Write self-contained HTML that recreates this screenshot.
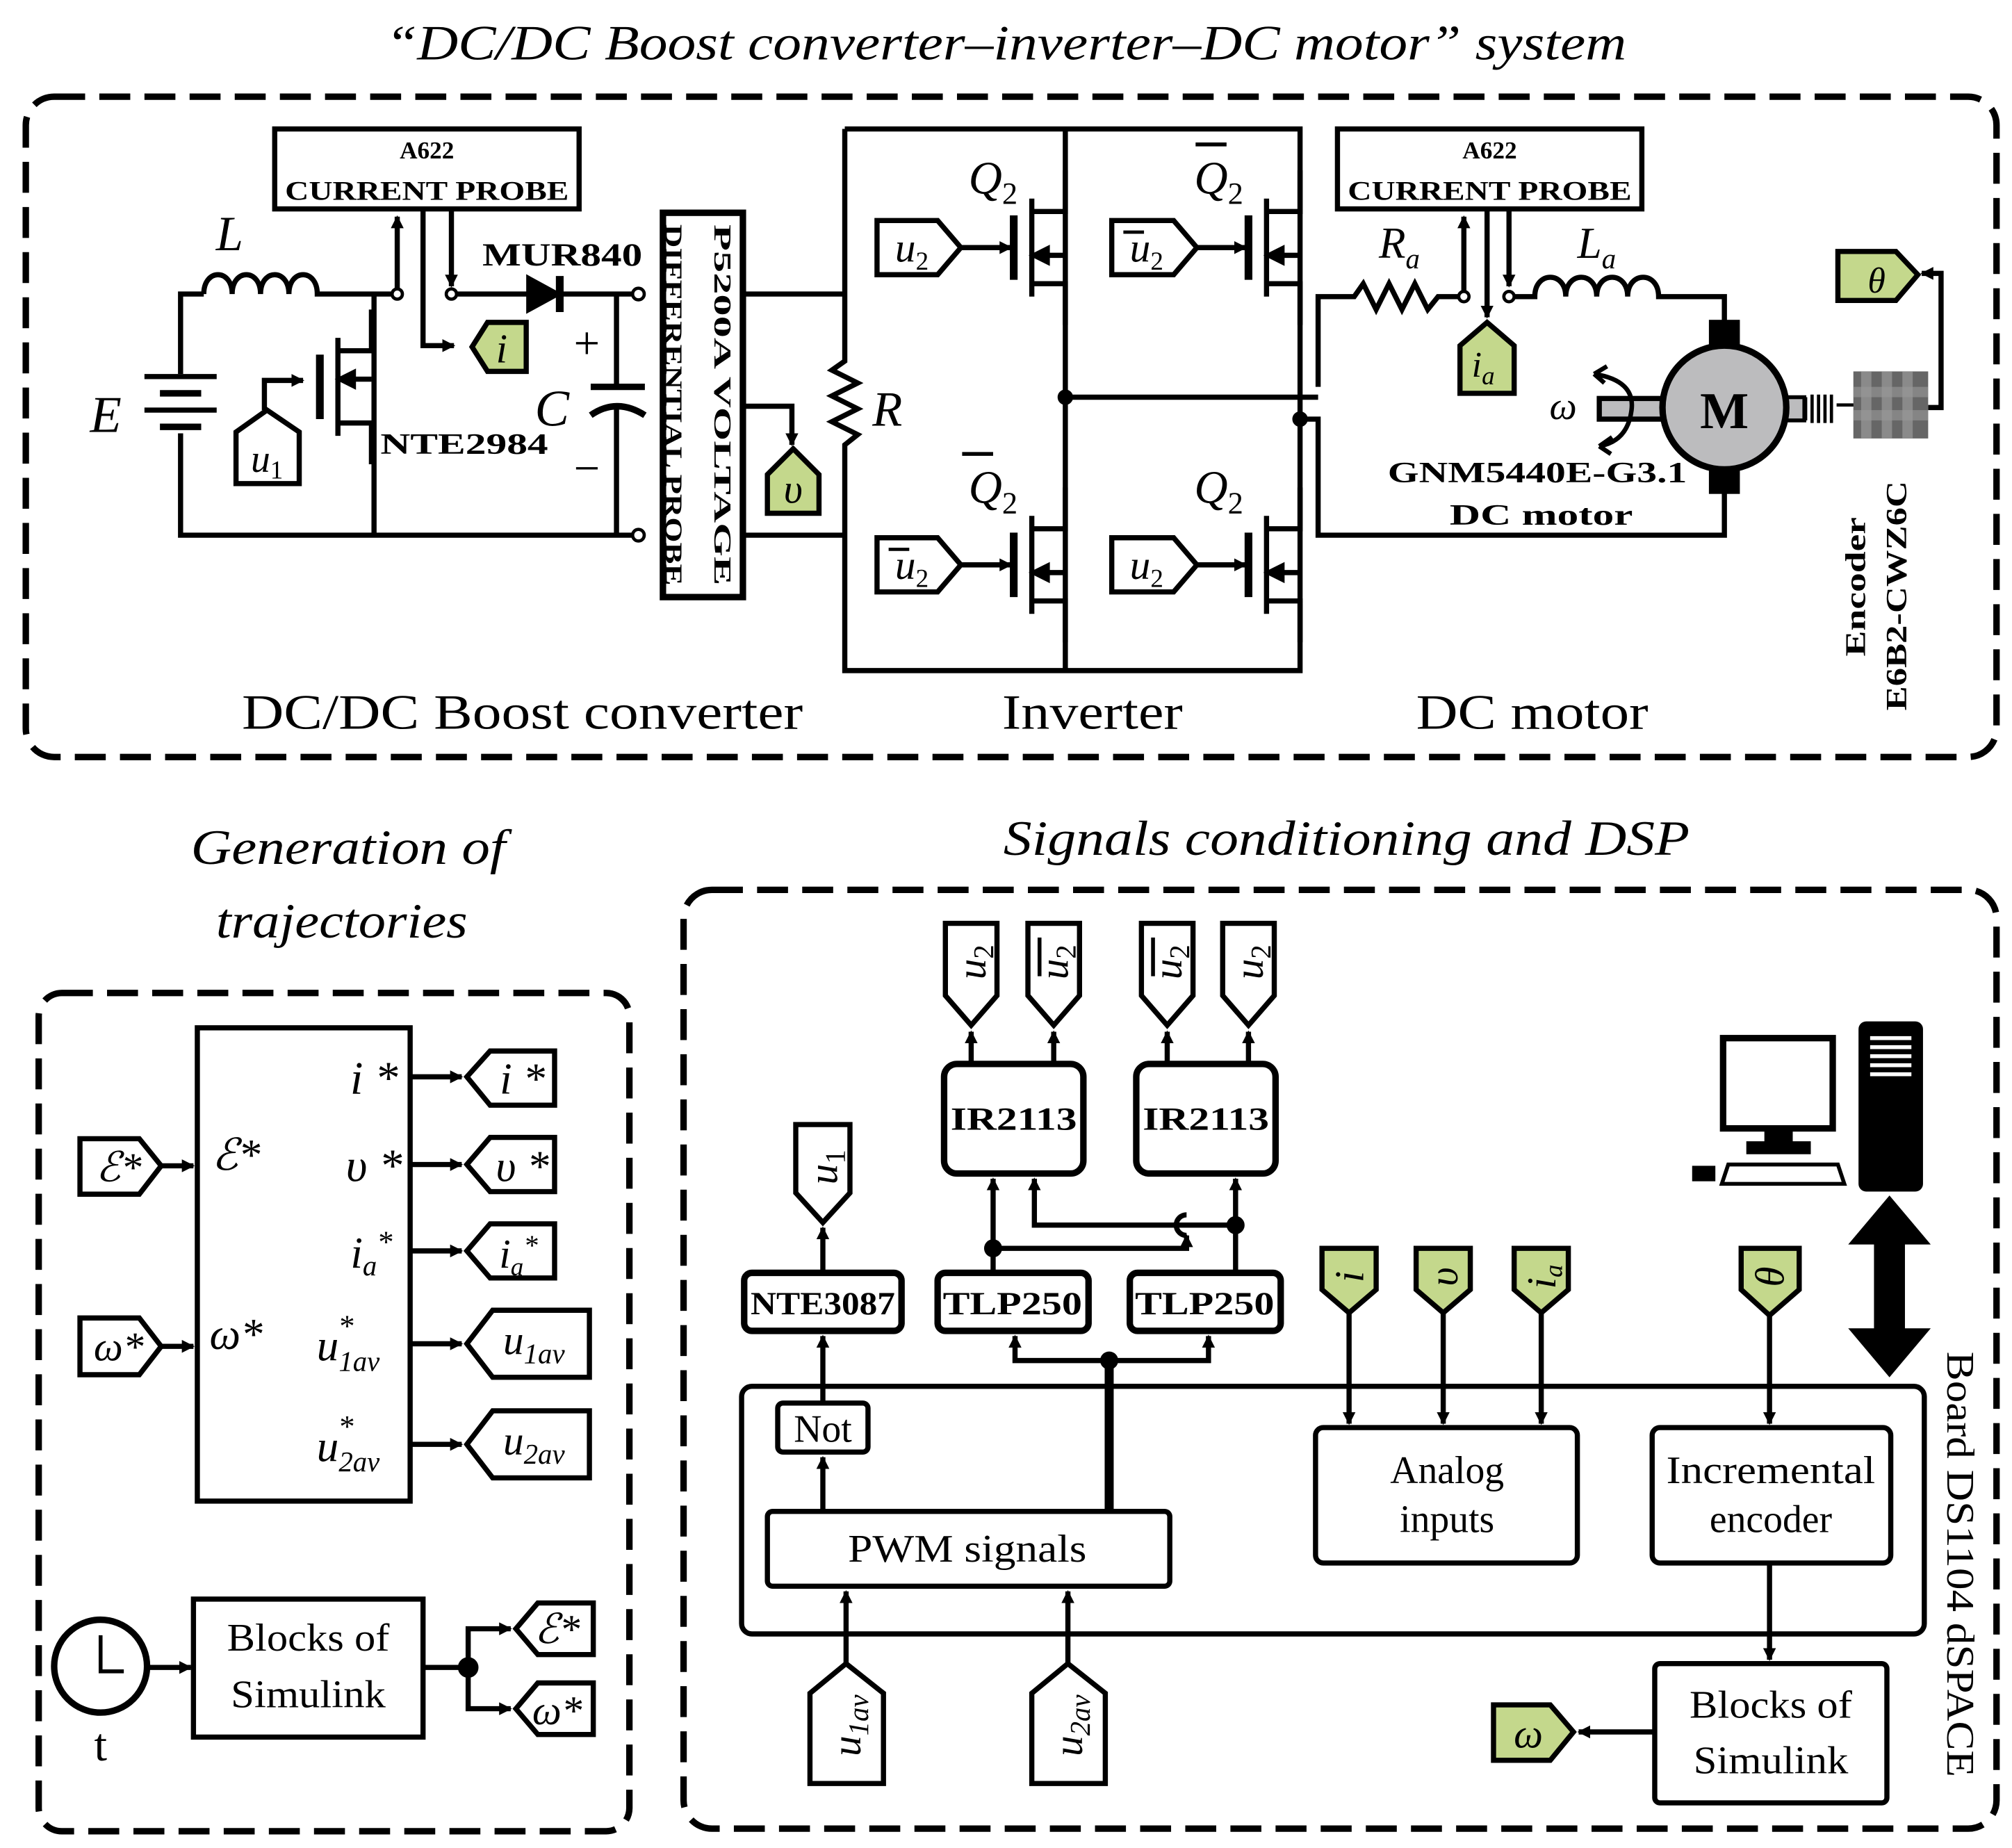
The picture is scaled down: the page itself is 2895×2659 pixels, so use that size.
<!DOCTYPE html>
<html><head><meta charset="utf-8"><style>
html,body{margin:0;padding:0;background:#fff}
svg{display:block}
text{font-family:"Liberation Serif","DejaVu Serif",serif;fill:#000}
.it{font-style:italic}
.b{font-weight:bold}
</style></head><body>
<svg width="2895" height="2659" viewBox="0 0 1560 1433" preserveAspectRatio="none" xmlns="http://www.w3.org/2000/svg">
<defs>
<marker id="ar" markerWidth="10" markerHeight="10" refX="9" refY="5" orient="auto" markerUnits="userSpaceOnUse"><path d="M0,0 L10,5 L0,10 z" fill="#000"/></marker>
<g id="mos" stroke="#000" fill="none" stroke-width="4">
<line x1="-14" y1="-25" x2="-14" y2="25" stroke-width="6"/>
<line x1="0" y1="-38" x2="0" y2="38"/>
<polyline points="0,-28 26,-28 26,-60"/>
<polyline points="0,28 26,28 26,60"/>
<line x1="26" y1="6" x2="6" y2="6"/>
<path d="M2,6 L12,1 L12,11 z" fill="#000"/>
</g>
</defs>
<g fill="none" stroke="#000" stroke-width="4">
<rect x="20" y="75" width="1528" height="512" rx="22" stroke-width="5" stroke-dasharray="24,11"/>
<rect x="30" y="770" width="458" height="650" rx="18" stroke-width="5" stroke-dasharray="24,11"/>
<rect x="530" y="690" width="1018" height="728" rx="22" stroke-width="5" stroke-dasharray="24,11"/>

<polyline points="140,290 140,228 158,228"/>
<path d="M158,228 c0,-20 22,-20 22,0 c0,-20 22,-20 22,0 c0,-20 22,-20 22,0 c0,-20 22,-20 22,0 L290,228 L304,228"/>
<polyline points="140,336 140,415 490,415"/>
<line x1="112" y1="292" x2="168" y2="292"/>
<line x1="124" y1="305" x2="156" y2="305" stroke-width="5"/>
<line x1="112" y1="318" x2="168" y2="318"/>
<line x1="124" y1="331" x2="156" y2="331" stroke-width="5"/>
<line x1="290" y1="228" x2="290" y2="415"/>
<use href="#mos" transform="translate(262,300) scale(1,-1)"/>
<polyline points="205,318 205,295 235,295" marker-end="url(#ar)"/>
<polygon points="183,375 232,375 232,335 207,318 183,335" fill="#fff"/>
<rect x="213" y="100" width="236" height="62" stroke-width="4"/>
<line x1="308" y1="224" x2="308" y2="168" marker-end="url(#ar)"/>
<line x1="350" y1="163" x2="350" y2="222" marker-end="url(#ar)"/>
<polyline points="328,163 328,268 352,268" marker-end="url(#ar)"/>
<circle cx="308" cy="228" r="4" fill="#fff" stroke-width="2.5"/>
<circle cx="350" cy="228" r="4" fill="#fff" stroke-width="2.5"/>
<line x1="354" y1="228" x2="490" y2="228"/>
<polygon points="410,216 410,240 432,228" fill="#000"/>
<line x1="434" y1="214" x2="434" y2="242" stroke-width="6"/>
<polygon points="408,250 378,250 366,269 378,288 408,288" fill="#c4d88c"/>
<line x1="478" y1="228" x2="478" y2="300"/>
<line x1="458" y1="300" x2="500" y2="300" stroke-width="5"/>
<path d="M458,322 Q478,308 500,322" stroke-width="5"/>
<line x1="478" y1="315" x2="478" y2="415"/>
<circle cx="495" cy="228" r="4.5" fill="#fff" stroke-width="2.5"/>
<circle cx="495" cy="415" r="4.5" fill="#fff" stroke-width="2.5"/>
<rect x="514" y="165" width="62" height="298" stroke-width="5"/>
<line x1="576" y1="228" x2="655" y2="228"/>
<line x1="576" y1="415" x2="655" y2="415"/>
<polyline points="576,315 614,315 614,345" marker-end="url(#ar)"/>
<polygon points="595,398 635,398 635,368 615,348 595,368" fill="#c4d88c"/>
<polyline points="655,100 655,280 645,287 665,297 645,307 665,317 645,327 665,337 655,345 655,520 1008,520 1008,100 655,100"/>
<line x1="826" y1="100" x2="826" y2="520"/>
<line x1="826" y1="308" x2="1022" y2="308"/>
<circle cx="826" cy="308" r="4" fill="#000"/>
<circle cx="1008" cy="325" r="4" fill="#000"/>
<polyline points="1008,325 1022,325 1022,415 1337,415 1337,380"/>
<polyline points="1022,300 1022,230 1050,230 1057,220 1067,240 1077,220 1087,240 1097,220 1107,240 1115,230 1131,230"/>
<use href="#mos" transform="translate(800,192)"/>
<use href="#mos" transform="translate(982,192)"/>
<use href="#mos" transform="translate(800,438)"/>
<use href="#mos" transform="translate(982,438)"/>
<line x1="745" y1="192" x2="784" y2="192" marker-end="url(#ar)"/>
<line x1="928" y1="192" x2="966" y2="192" marker-end="url(#ar)"/>
<line x1="745" y1="438" x2="784" y2="438" marker-end="url(#ar)"/>
<line x1="928" y1="438" x2="966" y2="438" marker-end="url(#ar)"/>
<polygon points="680,171 727,171 745,192 727,213 680,213" fill="#fff"/>
<polygon points="862,171 910,171 928,192 910,213 862,213" fill="#fff"/>
<polygon points="680,417 727,417 745,438 727,459 680,459" fill="#fff"/>
<polygon points="862,417 910,417 928,438 910,459 862,459" fill="#fff"/>
<rect x="1037" y="100" width="236" height="62"/>
<line x1="1135" y1="226" x2="1135" y2="168" marker-end="url(#ar)"/>
<line x1="1153" y1="163" x2="1153" y2="246" marker-end="url(#ar)"/>
<line x1="1170" y1="163" x2="1170" y2="222" marker-end="url(#ar)"/>
<circle cx="1135" cy="230" r="4" fill="#fff" stroke-width="2.5"/>
<circle cx="1170" cy="230" r="4" fill="#fff" stroke-width="2.5"/>
<path d="M1174,230 L1190,230 c0,-20 24,-20 24,0 c0,-20 24,-20 24,0 c0,-20 24,-20 24,0 c0,-20 24,-20 24,0 L1337,230 L1337,252"/>
<polygon points="1132,305 1174,305 1174,268 1153,250 1132,268" fill="#c4d88c"/>
<rect x="1327" y="250" width="20" height="18" fill="#000"/>
<rect x="1327" y="363" width="20" height="18" fill="#000"/>
<rect x="1240" y="309" width="52" height="16" fill="#bcbcbe"/>
<rect x="1385" y="308" width="14" height="18" fill="#bcbcbe" stroke-width="3"/>
<path d="M1400,308 v18 M1405,306 v22 M1410,306 v22 M1415,306 v22 M1420,306 v22 M1424,314 h14" stroke-width="2.5"/>
<circle cx="1337" cy="316" r="48" fill="#bcbcbe" stroke-width="5"/>
<path d="M1236,290 Q1268,295 1265,318 Q1262,342 1240,346" stroke-width="3.5"/>
<path d="M1236,290 l10,-6 M1236,290 l8,7 M1240,346 l10,-7 M1240,346 l9,6" stroke-width="3.5"/>
<polyline points="1495,316 1505,316 1505,212 1490,212" marker-end="url(#ar)"/>
<polygon points="1425,195 1470,195 1487,213 1470,233 1425,233" fill="#c4d88c"/>
</g>
<g>
<rect x="1437" y="288" width="58" height="52" fill="#666"/>
<rect x="1443" y="288" width="8" height="52" fill="#8a8a8a"/><rect x="1459" y="288" width="8" height="52" fill="#8a8a8a"/><rect x="1475" y="288" width="8" height="52" fill="#8a8a8a"/>
<rect x="1437" y="300" width="58" height="8" fill="#999" opacity=".6"/><rect x="1437" y="318" width="58" height="8" fill="#999" opacity=".6"/>
</g>

<text x="780" y="46" font-size="38" class="it" text-anchor="middle" textLength="962" lengthAdjust="spacingAndGlyphs">“DC/DC Boost converter–inverter–DC motor” system</text>
<text x="331" y="123" font-size="19" text-anchor="middle" class="b">A622</text>
<text x="331" y="155" font-size="21" text-anchor="middle" class="b" textLength="220" lengthAdjust="spacingAndGlyphs">CURRENT PROBE</text>
<text x="1155" y="123" font-size="19" text-anchor="middle" class="b">A622</text>
<text x="1155" y="155" font-size="21" text-anchor="middle" class="b" textLength="220" lengthAdjust="spacingAndGlyphs">CURRENT PROBE</text>
<text x="178" y="194" font-size="38" class="it" text-anchor="middle">L</text>
<text x="82" y="335" font-size="40" class="it" text-anchor="middle">E</text>
<text x="207" y="366" font-size="30" class="it" text-anchor="middle">u<tspan font-size="20" font-style="normal" dy="5">1</tspan></text>
<text x="360" y="352" font-size="23" class="b" text-anchor="middle" textLength="130" lengthAdjust="spacingAndGlyphs">NTE2984</text>
<text x="436" y="206" font-size="25" class="b" text-anchor="middle" textLength="124" lengthAdjust="spacingAndGlyphs">MUR840</text>
<text x="389" y="281" font-size="32" class="it" text-anchor="middle">i</text>
<text x="428" y="330" font-size="40" class="it" text-anchor="middle">C</text>
<text x="455" y="278" font-size="36" text-anchor="middle">+</text>
<text x="455" y="375" font-size="36" text-anchor="middle">−</text>
<text transform="translate(554,314) rotate(90)" font-size="19" class="b" text-anchor="middle" textLength="280" lengthAdjust="spacingAndGlyphs">P5200A VOLTAGE</text>
<text transform="translate(523,314) rotate(90)" font-size="19" class="b" text-anchor="middle" dy="7" textLength="280" lengthAdjust="spacingAndGlyphs">DIFFERENTIAL PROBE</text>
<text x="615" y="390" font-size="32" class="it" text-anchor="middle">υ</text>
<text x="688" y="330" font-size="38" class="it" text-anchor="middle">R</text>
<text x="770" y="150" font-size="36" class="it" text-anchor="middle">Q<tspan font-size="24" font-style="normal" dy="8">2</tspan></text>
<text x="945" y="150" font-size="36" class="it" text-anchor="middle">Q<tspan font-size="24" font-style="normal" dy="8">2</tspan></text>
<text x="770" y="390" font-size="36" class="it" text-anchor="middle">Q<tspan font-size="24" font-style="normal" dy="8">2</tspan></text>
<text x="945" y="390" font-size="36" class="it" text-anchor="middle">Q<tspan font-size="24" font-style="normal" dy="8">2</tspan></text>
<path d="M927,112 h24 M746,352 h24" stroke="#000" stroke-width="3"/>
<text x="707" y="203" font-size="32" class="it" text-anchor="middle">u<tspan font-size="20" font-style="normal" dy="6">2</tspan></text>
<text x="889" y="203" font-size="32" class="it" text-anchor="middle">u<tspan font-size="20" font-style="normal" dy="6">2</tspan></text>
<text x="707" y="449" font-size="32" class="it" text-anchor="middle">u<tspan font-size="20" font-style="normal" dy="6">2</tspan></text>
<text x="889" y="449" font-size="32" class="it" text-anchor="middle">u<tspan font-size="20" font-style="normal" dy="6">2</tspan></text>
<path d="M871,180 h16 M689,426 h16" stroke="#000" stroke-width="2.5"/>
<text x="1085" y="200" font-size="34" class="it" text-anchor="middle">R<tspan font-size="22" dy="8">a</tspan></text>
<text x="1238" y="200" font-size="34" class="it" text-anchor="middle">L<tspan font-size="22" dy="8">a</tspan></text>
<text x="1150" y="292" font-size="28" class="it" text-anchor="middle">i<tspan font-size="20" dy="6">a</tspan></text>
<text x="1212" y="325" font-size="30" class="it" text-anchor="middle">ω</text>
<text x="1337" y="332" font-size="40" class="b" text-anchor="middle">M</text>
<text x="1192" y="374" font-size="23" class="b" text-anchor="middle" textLength="232" lengthAdjust="spacingAndGlyphs">GNM5440E-G3.1</text>
<text x="1195" y="407" font-size="23" class="b" text-anchor="middle" textLength="142" lengthAdjust="spacingAndGlyphs">DC motor</text>
<text x="1455" y="227" font-size="28" class="it" text-anchor="middle">θ</text>
<text transform="translate(1446,455) rotate(-90)" font-size="22" class="b" text-anchor="middle" textLength="108" lengthAdjust="spacingAndGlyphs">Encoder</text>
<text transform="translate(1478,462) rotate(-90)" font-size="23" class="b" text-anchor="middle" textLength="178" lengthAdjust="spacingAndGlyphs">E6B2-CWZ6C</text>
<text x="405" y="565" font-size="38" text-anchor="middle" textLength="435" lengthAdjust="spacingAndGlyphs">DC/DC Boost converter</text>
<text x="847" y="565" font-size="38" text-anchor="middle" textLength="140" lengthAdjust="spacingAndGlyphs">Inverter</text>
<text x="1188" y="565" font-size="38" text-anchor="middle" textLength="180" lengthAdjust="spacingAndGlyphs">DC motor</text>

<text x="270" y="670" font-size="38" class="it" text-anchor="middle" textLength="244" lengthAdjust="spacingAndGlyphs">Generation of</text>
<text x="265" y="727" font-size="38" class="it" text-anchor="middle" textLength="195" lengthAdjust="spacingAndGlyphs">trajectories</text>
<text x="1044" y="663" font-size="38" class="it" text-anchor="middle" textLength="532" lengthAdjust="spacingAndGlyphs">Signals conditioning and DSP</text>
<g fill="none" stroke="#000" stroke-width="4">
<rect x="153" y="797" width="165" height="367"/>
<line x1="318" y1="835" x2="358" y2="835" marker-end="url(#ar)"/>
<line x1="318" y1="903" x2="358" y2="903" marker-end="url(#ar)"/>
<line x1="318" y1="970" x2="358" y2="970" marker-end="url(#ar)"/>
<line x1="318" y1="1042" x2="358" y2="1042" marker-end="url(#ar)"/>
<line x1="318" y1="1120" x2="358" y2="1120" marker-end="url(#ar)"/>
<polygon points="430,815 380,815 362,835 380,857 430,857" fill="#fff"/>
<polygon points="430,882 380,882 362,903 380,924 430,924" fill="#fff"/>
<polygon points="430,949 380,949 362,970 380,991 430,991" fill="#fff"/>
<polygon points="457,1016 382,1016 362,1042 382,1068 457,1068" fill="#fff"/>
<polygon points="457,1094 382,1094 362,1120 382,1146 457,1146" fill="#fff"/>
<polygon points="62,883 108,883 125,904 108,926 62,926" fill="#fff"/>
<polygon points="62,1022 108,1022 125,1044 108,1066 62,1066" fill="#fff"/>
<line x1="125" y1="904" x2="150" y2="904" marker-end="url(#ar)"/>
<line x1="125" y1="1044" x2="150" y2="1044" marker-end="url(#ar)"/>
<circle cx="78" cy="1292" r="36" stroke-width="5"/>
<polyline points="78,1268 78,1296 96,1296" stroke-width="3"/>
<line x1="114" y1="1293" x2="148" y2="1293" marker-end="url(#ar)"/>
<rect x="150" y="1240" width="178" height="107"/>
<line x1="328" y1="1293" x2="363" y2="1293"/>
<circle cx="363" cy="1293" r="6" fill="#000"/>
<polyline points="363,1293 363,1263 396,1263" marker-end="url(#ar)"/>
<polyline points="363,1293 363,1325 396,1325" marker-end="url(#ar)"/>
<polygon points="460,1243 417,1243 400,1263 417,1283 460,1283" fill="#fff"/>
<polygon points="460,1305 417,1305 400,1325 417,1345 460,1345" fill="#fff"/>
</g>
<text x="290" y="848" font-size="36" class="it" text-anchor="middle">i *</text>
<text x="290" y="916" font-size="36" class="it" text-anchor="middle">υ *</text>
<text x="288" y="983" font-size="34" class="it" text-anchor="middle">i<tspan font-size="22" dy="6">a</tspan><tspan dy="-18" font-size="24">*</tspan></text>
<text x="270" y="1055" font-size="34" class="it" text-anchor="middle">u<tspan font-size="22" dy="8">1av</tspan></text>
<text x="262" y="1036" font-size="24" class="it">*</text>
<text x="270" y="1133" font-size="34" class="it" text-anchor="middle">u<tspan font-size="22" dy="8">2av</tspan></text>
<text x="262" y="1114" font-size="24" class="it">*</text>
<text x="183" y="907" font-size="34" class="it" text-anchor="middle">ℰ*</text>
<text x="183" y="1046" font-size="34" class="it" text-anchor="middle">ω*</text>
<text x="405" y="848" font-size="34" class="it" text-anchor="middle">i *</text>
<text x="405" y="916" font-size="34" class="it" text-anchor="middle">υ *</text>
<text x="402" y="983" font-size="32" class="it" text-anchor="middle">i<tspan font-size="20" dy="6">a</tspan><tspan dy="-16" font-size="22">*</tspan></text>
<text x="414" y="1050" font-size="32" class="it" text-anchor="middle">u<tspan font-size="22" dy="7">1av</tspan></text>
<text x="414" y="1128" font-size="32" class="it" text-anchor="middle">u<tspan font-size="22" dy="7">2av</tspan></text>
<text x="92" y="916" font-size="32" class="it" text-anchor="middle">ℰ*</text>
<text x="92" y="1055" font-size="32" class="it" text-anchor="middle">ω*</text>
<text x="432" y="1274" font-size="32" class="it" text-anchor="middle">ℰ*</text>
<text x="432" y="1337" font-size="32" class="it" text-anchor="middle">ω*</text>
<text x="78" y="1365" font-size="36" text-anchor="middle">t</text>
<text x="239" y="1280" font-size="30" text-anchor="middle" textLength="126" lengthAdjust="spacingAndGlyphs">Blocks of</text>
<text x="239" y="1324" font-size="30" text-anchor="middle" textLength="120" lengthAdjust="spacingAndGlyphs">Simulink</text>

<g fill="none" stroke="#000" stroke-width="4">
<rect x="575" y="1075" width="917" height="192" rx="8"/>
<rect x="595" y="1172" width="312" height="58" rx="4"/>
<rect x="603" y="1088" width="70" height="38" rx="4"/>
<rect x="577" y="987" width="122" height="45" rx="6" stroke-width="5"/>
<rect x="727" y="987" width="117" height="45" rx="6" stroke-width="5"/>
<rect x="876" y="987" width="117" height="45" rx="6" stroke-width="5"/>
<rect x="732" y="825" width="108" height="85" rx="10" stroke-width="5"/>
<rect x="881" y="825" width="108" height="85" rx="10" stroke-width="5"/>
<rect x="1020" y="1107" width="203" height="105" rx="6"/>
<rect x="1281" y="1107" width="185" height="105" rx="6"/>
<rect x="1283" y="1290" width="180" height="108" rx="4"/>
<line x1="638" y1="1172" x2="638" y2="1130" marker-end="url(#ar)"/>
<line x1="638" y1="1088" x2="638" y2="1036" marker-end="url(#ar)"/>
<line x1="638" y1="987" x2="638" y2="952" marker-end="url(#ar)"/>
<line x1="860" y1="1172" x2="860" y2="1052" stroke-width="7"/>
<polyline points="860,1055 787,1055 787,1036" marker-end="url(#ar)"/>
<polyline points="860,1055 937,1055 937,1036" marker-end="url(#ar)"/>
<circle cx="860" cy="1055" r="5" fill="#000"/>
<polyline points="770,987 770,914" marker-end="url(#ar)"/>
<polyline points="958,987 958,914" marker-end="url(#ar)"/>
<polyline points="770,968 920,968 920,958 M920,942 920,914" marker-end="url(#ar)"/>
<path d="M920,958 a8,8 0 0 1 0,-16"/>
<polyline points="958,950 802,950 802,914" marker-end="url(#ar)"/>
<circle cx="770" cy="968" r="5" fill="#000"/>
<circle cx="958" cy="950" r="5" fill="#000"/>
<line x1="753" y1="825" x2="753" y2="800" marker-end="url(#ar)"/>
<line x1="817" y1="825" x2="817" y2="800" marker-end="url(#ar)"/>
<line x1="905" y1="825" x2="905" y2="800" marker-end="url(#ar)"/>
<line x1="968" y1="825" x2="968" y2="800" marker-end="url(#ar)"/>
<polygon points="733,716 773,716 773,772 753,795 733,772" fill="#fff"/>
<polygon points="797,716 837,716 837,772 817,795 797,772" fill="#fff"/>
<polygon points="885,716 925,716 925,772 905,795 885,772" fill="#fff"/>
<polygon points="948,716 988,716 988,772 968,795 948,772" fill="#fff"/>
<polygon points="617,872 659,872 659,925 638,948 617,925" fill="#fff"/>
<polygon points="1025,968 1067,968 1067,1000 1046,1018 1025,1000" fill="#c4d88c"/>
<polygon points="1098,968 1140,968 1140,1000 1119,1018 1098,1000" fill="#c4d88c"/>
<polygon points="1174,968 1216,968 1216,1000 1195,1018 1174,1000" fill="#c4d88c"/>
<polygon points="1350,968 1395,968 1395,1000 1372,1020 1350,1000" fill="#c4d88c"/>
<line x1="1046" y1="1018" x2="1046" y2="1104" marker-end="url(#ar)"/>
<line x1="1119" y1="1018" x2="1119" y2="1104" marker-end="url(#ar)"/>
<line x1="1195" y1="1018" x2="1195" y2="1104" marker-end="url(#ar)"/>
<line x1="1372" y1="1020" x2="1372" y2="1104" marker-end="url(#ar)"/>
<line x1="1372" y1="1212" x2="1372" y2="1287" marker-end="url(#ar)"/>
<line x1="1283" y1="1343" x2="1224" y2="1343" marker-end="url(#ar)"/>
<polygon points="1158,1322 1202,1322 1220,1343 1202,1365 1158,1365" fill="#c4d88c"/>
<line x1="656" y1="1292" x2="656" y2="1234" marker-end="url(#ar)"/>
<line x1="828" y1="1292" x2="828" y2="1234" marker-end="url(#ar)"/>
<polygon points="628,1383 685,1383 685,1313 656,1290 628,1313" fill="#fff"/>
<polygon points="800,1383 857,1383 857,1313 828,1290 800,1313" fill="#fff"/>
<rect x="1336" y="805" width="85" height="70" stroke-width="5"/>
<path d="M1370,877 v10 h-14 v6 h46 v-6 h-14 v-10" fill="#000"/>
<polygon points="1340,903 1425,903 1430,918 1335,918" stroke-width="3"/>
<rect x="1313" y="905" width="16" height="10" fill="#000" stroke-width="2"/>
<rect x="1443" y="794" width="46" height="128" rx="4" fill="#000"/>
<path d="M1450,805 h32 M1450,812 h32 M1450,819 h32 M1450,826 h32 M1450,833 h32" stroke="#fff" stroke-width="3"/>
</g>
<polygon points="1465,927 1497,965 1477,965 1477,1030 1497,1030 1465,1068 1433,1030 1453,1030 1453,965 1433,965" fill="#000"/>
<text x="638" y="1118" font-size="30" text-anchor="middle">Not</text>
<text x="750" y="1211" font-size="30" text-anchor="middle" textLength="185" lengthAdjust="spacingAndGlyphs">PWM signals</text>
<text x="638" y="1019" font-size="25" class="b" text-anchor="middle" textLength="112" lengthAdjust="spacingAndGlyphs">NTE3087</text>
<text x="785" y="1019" font-size="25" class="b" text-anchor="middle" textLength="108" lengthAdjust="spacingAndGlyphs">TLP250</text>
<text x="934" y="1019" font-size="25" class="b" text-anchor="middle" textLength="108" lengthAdjust="spacingAndGlyphs">TLP250</text>
<text x="786" y="876" font-size="25" class="b" text-anchor="middle" textLength="98" lengthAdjust="spacingAndGlyphs">IR2113</text>
<text x="935" y="876" font-size="25" class="b" text-anchor="middle" textLength="98" lengthAdjust="spacingAndGlyphs">IR2113</text>
<text x="1122" y="1150" font-size="30" text-anchor="middle">Analog</text>
<text x="1122" y="1188" font-size="30" text-anchor="middle">inputs</text>
<text x="1373" y="1150" font-size="30" text-anchor="middle" textLength="162" lengthAdjust="spacingAndGlyphs">Incremental</text>
<text x="1373" y="1188" font-size="30" text-anchor="middle">encoder</text>
<text x="1373" y="1332" font-size="30" text-anchor="middle" textLength="126" lengthAdjust="spacingAndGlyphs">Blocks of</text>
<text x="1373" y="1375" font-size="30" text-anchor="middle" textLength="120" lengthAdjust="spacingAndGlyphs">Simulink</text>
<text x="1185" y="1355" font-size="32" class="it" text-anchor="middle">ω</text>
<text transform="translate(1510,1213) rotate(90)" font-size="30" text-anchor="middle" textLength="330" lengthAdjust="spacingAndGlyphs">Board DS1104 dSPACE</text>
<g font-size="32" class="it">
<text transform="translate(764,746) rotate(-90)" text-anchor="middle">u<tspan font-size="22" font-style="normal" dy="6">2</tspan></text>
<text transform="translate(828,746) rotate(-90)" text-anchor="middle">u<tspan font-size="22" font-style="normal" dy="6">2</tspan></text>
<text transform="translate(916,746) rotate(-90)" text-anchor="middle">u<tspan font-size="22" font-style="normal" dy="6">2</tspan></text>
<text transform="translate(979,746) rotate(-90)" text-anchor="middle">u<tspan font-size="22" font-style="normal" dy="6">2</tspan></text>
<text transform="translate(649,905) rotate(-90)" text-anchor="middle">u<tspan font-size="22" font-style="normal" dy="6">1</tspan></text>
<text transform="translate(1057,990) rotate(-90)" text-anchor="middle">i</text>
<text transform="translate(1130,990) rotate(-90)" text-anchor="middle">υ</text>
<text transform="translate(1206,990) rotate(-90)" text-anchor="middle">i<tspan font-size="20" dy="5">a</tspan></text>
<text transform="translate(1383,990) rotate(-90)" text-anchor="middle">θ</text>
<text transform="translate(667,1338) rotate(-90)" text-anchor="middle">u<tspan font-size="22" dy="6">1av</tspan></text>
<text transform="translate(839,1338) rotate(-90)" text-anchor="middle">u<tspan font-size="22" dy="6">2av</tspan></text>
</g>
<path d="M806,727 v30 M894,727 v30" stroke="#000" stroke-width="3"/>
</svg>
</body></html>
